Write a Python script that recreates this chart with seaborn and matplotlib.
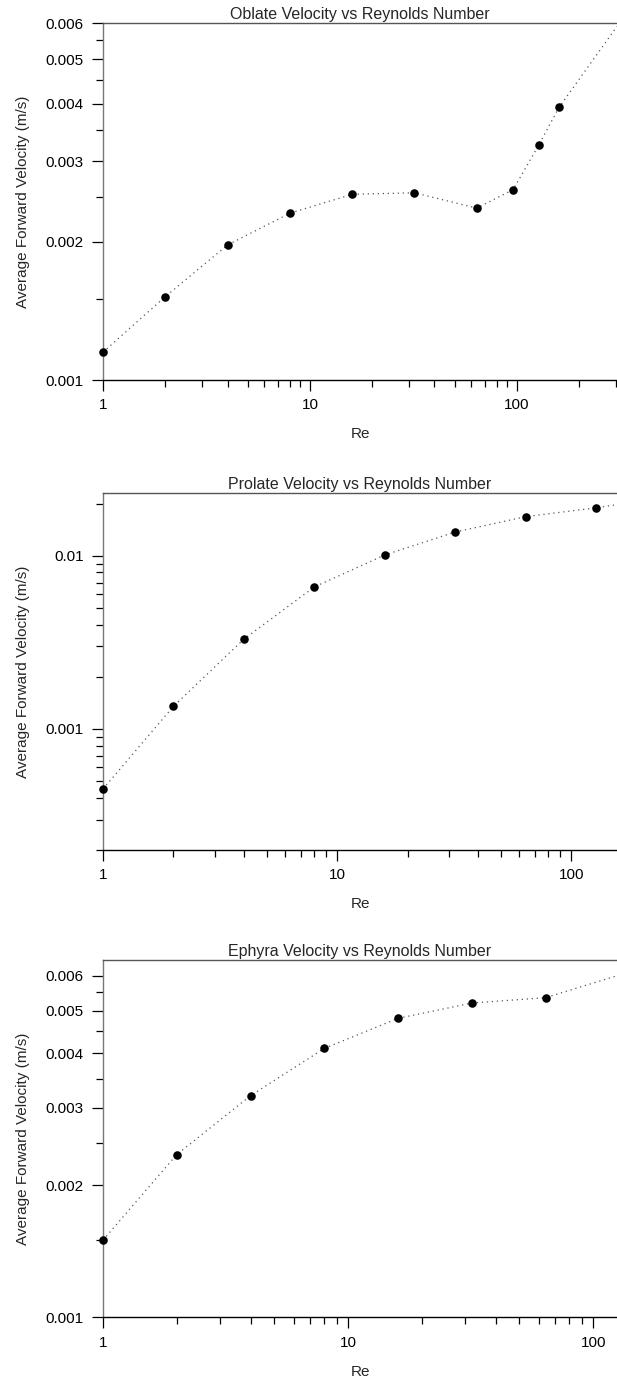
import matplotlib
matplotlib.use("Agg")
import matplotlib.pyplot as plt
import matplotlib.ticker as mticker
import seaborn as sns
import pandas as pd

# ---- data ----
oblate_re = [1, 2, 4, 8, 16, 32, 64, 96, 128, 160]
oblate_v = [0.00115, 0.00152, 0.00197, 0.00231, 0.00254, 0.00256, 0.00237, 0.00260, 0.00326, 0.00393]
oblate_tail_re = [305]
oblate_tail_v = [0.0059]

prolate_re = [1, 2, 4, 8, 16, 32, 64, 128]
prolate_v = [0.00045, 0.00135, 0.0033, 0.0066, 0.0101, 0.0137, 0.0168, 0.0189]
prolate_tail_re = [157]
prolate_tail_v = [0.0197]

ephyra_re = [1, 2, 4, 8, 16, 32, 64]
ephyra_v = [0.0015, 0.00235, 0.0032, 0.0041, 0.0048, 0.0052, 0.00535]
ephyra_tail_re = [125]
ephyra_tail_v = [0.0060]

titles = ["Oblate Velocity vs Reynolds Number",
          "Prolate Velocity vs Reynolds Number",
          "Ephyra Velocity vs Reynolds Number"]
x_label = "Re"
y_label = "Average Forward Velocity (m/s)"

x_major = [1, 10, 100]
x_major_labels = ["1", "10", "100"]

y1_major = [0.001, 0.002, 0.003, 0.004, 0.005, 0.006]
y1_labels = ["0.001", "0.002", "0.003", "0.004", "0.005", "0.006"]
y1_minor = [0.0015, 0.0025, 0.0035, 0.0045, 0.0055]

y2_major = [0.001, 0.01]
y2_labels = ["0.001", "0.01"]
y2_minor = [0.0002, 0.0003, 0.0004, 0.0005, 0.0006, 0.0007, 0.0008, 0.0009,
            0.002, 0.003, 0.004, 0.005, 0.006, 0.007, 0.008, 0.009, 0.02]

y3_major = [0.001, 0.002, 0.003, 0.004, 0.005, 0.006]
y3_labels = ["0.001", "0.002", "0.003", "0.004", "0.005", "0.006"]
y3_minor = [0.0015, 0.0025, 0.0035, 0.0045, 0.0055]

# ---- styling ----
sns.set_style("ticks")
plt.rcParams['font.family'] = ['Liberation Sans', 'DejaVu Sans']
plt.rcParams['font.size'] = 11

fig = plt.figure(figsize=(6.17, 13.81), dpi=100)

left = 103 / 617
width = 1 - left
height = 0.2585
bottoms = [0.7248, 0.3845, 0.0460]

panels = [
    (oblate_re, oblate_v, oblate_tail_re, oblate_tail_v, (1, 305), (0.001, 0.006), y1_major, y1_labels, y1_minor),
    (prolate_re, prolate_v, prolate_tail_re, prolate_tail_v, (1, 157), (0.0002, 0.023), y2_major, y2_labels, y2_minor),
    (ephyra_re, ephyra_v, ephyra_tail_re, ephyra_tail_v, (1, 125), (0.001, 0.0065), y3_major, y3_labels, y3_minor),
]

x_minor = [2, 3, 4, 5, 6, 7, 8, 9, 20, 30, 40, 50, 60, 70, 80, 90, 200, 300]

for i, (re, v, tre, tv, xl, yl, ymaj, ylab, ymin) in enumerate(panels):
    ax = fig.add_axes([left, bottoms[i], width, height])
    line_df = pd.DataFrame({"Re": re + tre, "V": v + tv})
    pts_df = pd.DataFrame({"Re": re, "V": v})
    sns.lineplot(data=line_df, x="Re", y="V", ax=ax, color="#555555",
                 linewidth=0.9, linestyle=(0, (1, 3)), sort=True)
    sns.scatterplot(data=pts_df, x="Re", y="V", ax=ax, color="black",
                    s=38, edgecolor="black", linewidth=0, clip_on=False, zorder=5)
    ax.set_xscale("log")
    ax.set_yscale("log")
    ax.set_xlim(*xl)
    ax.set_ylim(*yl)

    ax.xaxis.set_major_locator(mticker.FixedLocator(x_major))
    ax.xaxis.set_major_formatter(mticker.FixedFormatter(x_major_labels))
    ax.xaxis.set_minor_locator(mticker.FixedLocator([m for m in x_minor if m < xl[1]]))
    ax.xaxis.set_minor_formatter(mticker.NullFormatter())

    ax.yaxis.set_major_locator(mticker.FixedLocator(ymaj))
    ax.yaxis.set_major_formatter(mticker.FixedFormatter(ylab))
    ax.yaxis.set_minor_locator(mticker.FixedLocator(ymin))
    ax.yaxis.set_minor_formatter(mticker.NullFormatter())

    ax.tick_params(axis="both", which="major", direction="out", length=8, width=0.9,
                   labelsize=11, colors="black", pad=5)
    ax.tick_params(axis="both", which="minor", direction="out", length=5, width=0.9,
                   colors="black")
    ax.tick_params(axis="y", which="major", length=8, pad=6)

    ax.spines["right"].set_visible(False)
    ax.spines["top"].set_visible(True)
    ax.spines["top"].set_color("#555555")
    ax.spines["left"].set_color("#777777")
    ax.spines["bottom"].set_color("black")
    for s in ["top", "left", "bottom"]:
        ax.spines[s].set_linewidth(1.0)

    ax.set_title(titles[i], fontsize=11.5, pad=3)
    ax.set_xlabel(x_label, fontsize=11, labelpad=11)
    ax.set_ylabel(y_label, fontsize=11, labelpad=11)

fig.savefig("out.png", dpi=100)
